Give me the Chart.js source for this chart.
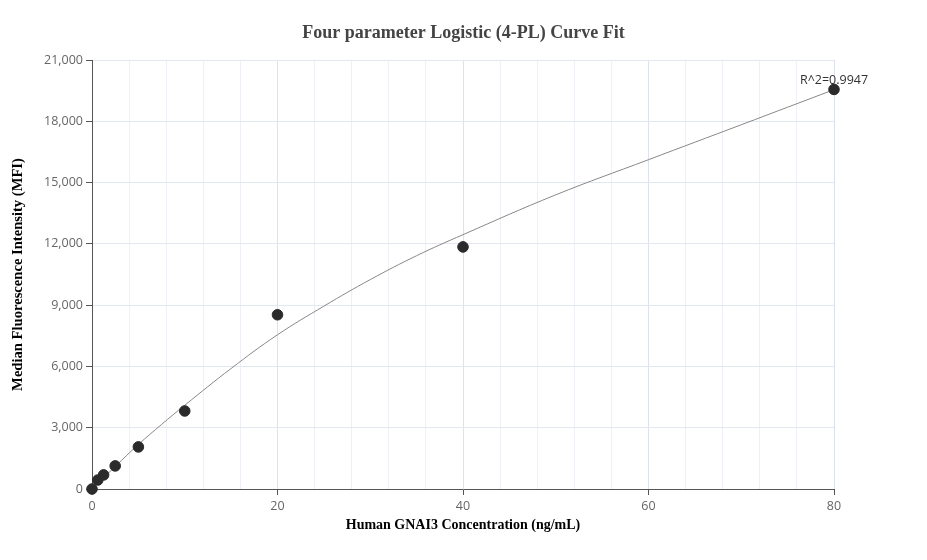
<!DOCTYPE html>
<html>
<head>
<meta charset="utf-8">
<script src="https://cdn.jsdelivr.net/npm/chart.js@4.4.1/dist/chart.umd.min.js"></script>
<style>
html,body{margin:0;padding:0;background:#fff;}
#wrap{width:927px;height:560px;}
</style>
</head>
<body>
<div id="wrap"><canvas id="c"></canvas></div>
<script>
// Measured standards
const concentrations = [0, 0.625, 1.25, 2.5, 5, 10, 20, 40, 80];
const mfiValues = [0, 440, 690, 1130, 2060, 3820, 8530, 11850, 19560];
// Fitted curve
const curveX = [0, 2.5, 5, 7.5, 10, 15, 20, 25, 30, 35, 40, 50, 60, 70, 80];
const curveY = [0, 1100, 2180, 3160, 4100, 5900, 7550, 8950, 10250, 11420, 12450, 14400, 16120, 17830, 19550];
const xTickLabels = [0, 20, 40, 60, 80];
const yTickValues = [0, 3000, 6000, 9000, 12000, 15000, 18000, 21000];
const chartTitle = 'Four parameter Logistic (4-PL) Curve Fit';
const r2Text = "R^2=0.9947";

const scatterData = concentrations.map((x, i) => ({x: x, y: mfiValues[i]}));
const curveData = curveX.map((x, i) => ({x: x, y: curveY[i]}));

const textPlugin = {
  id: 'texts',
  afterDatasetsDraw(chart) {
    const meta = chart.getDatasetMeta(1);
    const last = meta.data[meta.data.length - 1];
    const ctx = chart.ctx;
    ctx.save();
    ctx.font = '12.5px "Open Sans", sans-serif';
    ctx.fillStyle = '#333';
    ctx.textAlign = 'center';
    ctx.textBaseline = 'middle';
    ctx.fillText(r2Text, last.x, last.y - 9);
    ctx.font = 'bold 18px "Liberation Serif", "Times New Roman", serif';
    ctx.fillStyle = '#444';
    ctx.fillText(chartTitle, chart.width / 2, 33);
    ctx.restore();
  }
};

new Chart(document.getElementById('c'), {
  type: 'scatter',
  data: {
    datasets: [
      {
        type: 'line',
        data: curveData,
        borderColor: '#888',
        borderWidth: 1,
        pointRadius: 0,
        fill: false,
        tension: 0.4,
        order: 2
      },
      {
        type: 'scatter',
        data: scatterData,
        backgroundColor: '#2b2b2b',
        borderColor: '#2b2b2b',
        pointRadius: 5.3,
        clip: false,
        order: 1
      }
    ]
  },
  options: {
    responsive: true,
    maintainAspectRatio: false,
    animation: false,
    layout: {padding: {left: 0, right: 93, top: 60, bottom: 0}},
    plugins: {
      legend: {display: false},
      tooltip: {enabled: false},
      title: {display: false}
    },
    scales: {
      x: {
        type: 'linear',
        min: 0, max: 80,
        afterFit(s) { s.height = 71; },
        border: {color: '#555', width: 1},
        grid: {
          color: ctx => (ctx.tick && ctx.tick.value % 20 === 0) ? '#dde2ee' : '#eef0f6',
          tickColor: ctx => (ctx.tick && ctx.tick.value % 20 === 0) ? '#555' : 'rgba(0,0,0,0)',
          tickLength: 6
        },
        ticks: {
          stepSize: 4,
          autoSkip: false,
          maxRotation: 0,
          color: '#666',
          font: {family: '"Open Sans", sans-serif', size: 12.5},
          padding: 4,
          callback: v => xTickLabels.includes(v) ? String(v) : ''
        },
        title: {
          display: true,
          text: 'Human GNAI3 Concentration (ng/mL)',
          color: '#000',
          font: {family: '"Liberation Serif", "Times New Roman", serif', size: 14, weight: 'bold', lineHeight: 1.2},
          padding: {top: 0, bottom: 26}
        }
      },
      y: {
        type: 'linear',
        min: 0, max: 21000,
        afterFit(s) { s.width = 92; },
        afterBuildTicks(s) { s.ticks = yTickValues.map(v => ({value: v})); },
        border: {color: '#555', width: 1},
        grid: {color: '#e3e7f0', tickColor: '#555', tickLength: 6},
        ticks: {
          color: '#666',
          font: {family: '"Open Sans", sans-serif', size: 12.5},
          padding: 3,
          callback: v => v.toLocaleString('en-US')
        },
        title: {
          display: true,
          text: 'Median Fluorescence Intensity (MFI)',
          color: '#000',
          font: {family: '"Liberation Serif", "Times New Roman", serif', size: 14.6, weight: 'bold', lineHeight: 1.2},
          padding: {top: 9, bottom: 0}
        }
      }
    }
  },
  plugins: [textPlugin]
});
</script>
</body>
</html>
